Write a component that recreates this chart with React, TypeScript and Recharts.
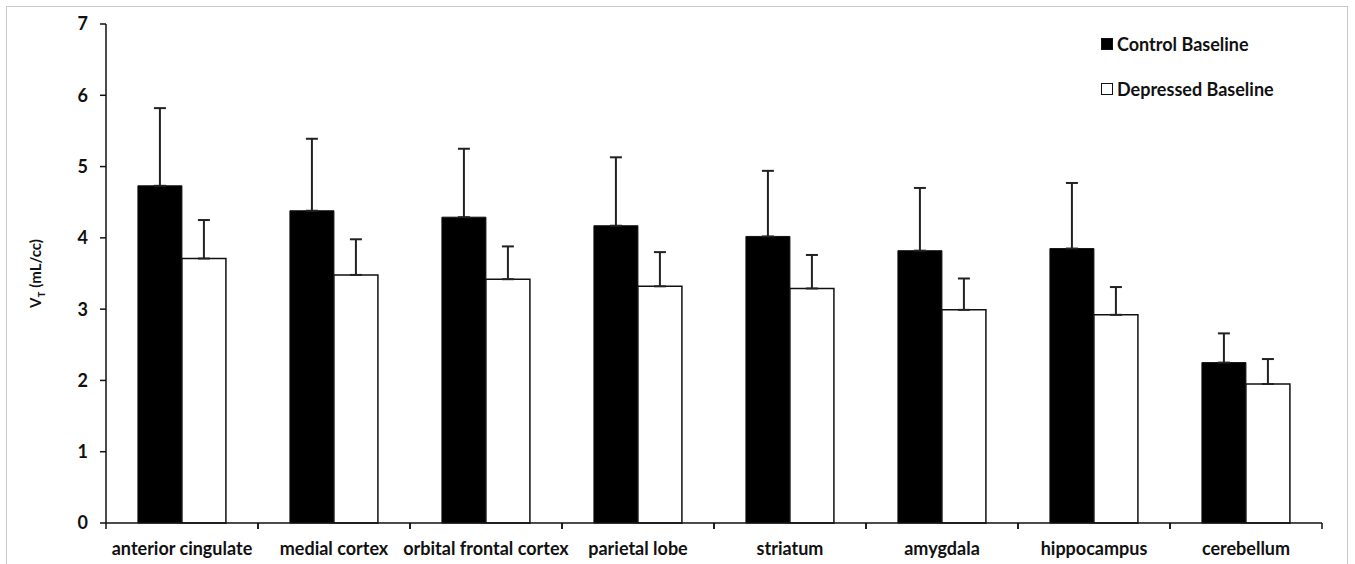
import React from "react";
import { BarChart, Bar, XAxis, YAxis, ErrorBar } from "recharts";

const regions = [
  "anterior cingulate",
  "medial cortex",
  "orbital frontal cortex",
  "parietal lobe",
  "striatum",
  "amygdala",
  "hippocampus",
  "cerebellum",
];
const controlMean = [4.73, 4.38, 4.29, 4.17, 4.02, 3.82, 3.85, 2.25];
const controlSd = [1.09, 1.01, 0.96, 0.96, 0.92, 0.88, 0.92, 0.41];
const depressedMean = [3.71, 3.48, 3.42, 3.32, 3.29, 2.99, 2.92, 1.95];
const depressedSd = [0.54, 0.5, 0.46, 0.48, 0.47, 0.44, 0.39, 0.35];
const yTicks = [0, 1, 2, 3, 4, 5, 6, 7];

const FONT = "Lato, 'Open Sans', sans-serif";

const data = regions.map((name, i) => ({
  name,
  control: controlMean[i],
  controlErr: [0, controlSd[i]],
  depressed: depressedMean[i],
  depressedErr: [0, depressedSd[i]],
}));

// category label centred, tick marks at the band edges
function RegionTick(props: any) {
  const { x, y, payload } = props;
  const half = payload.offset || 0;
  return (
    <g>
      <line x1={x - half} y1={y - 8} x2={x - half} y2={y - 2} stroke="#111" strokeWidth={1.5} />
      <line x1={x + half} y1={y - 8} x2={x + half} y2={y - 2} stroke="#111" strokeWidth={1.5} />
      <text
        x={x}
        y={y + 24}
        textAnchor="middle"
        fontFamily={FONT}
        fontWeight={700}
        fontSize={18}
        fill="#111"
      >
        {payload.value}
      </text>
    </g>
  );
}

function LegendBox() {
  const row = (label: string, fill: string) => (
    <div style={{ display: "flex", alignItems: "center", height: 22 }}>
      <span
        style={{
          display: "inline-block",
          width: 10,
          height: 10,
          background: fill,
          border: "1.5px solid #111",
          marginRight: 4,
        }}
      />
      <span style={{ fontFamily: FONT, fontWeight: 700, fontSize: 18, color: "#111" }}>{label}</span>
    </div>
  );
  return (
    <div style={{ position: "absolute", left: 1101, top: 33, display: "flex", flexDirection: "column", gap: 23 }}>
      {row("Control Baseline", "#000")}
      {row("Depressed Baseline", "#fff")}
    </div>
  );
}

function YLabel(props: any) {
  const { viewBox } = props;
  const cy = viewBox.y + viewBox.height / 2;
  const cx = 41;
  return (
    <text
      x={cx}
      y={cy}
      transform={`rotate(-90 ${cx} ${cy})`}
      textAnchor="middle"
      fontFamily={FONT}
      fontWeight={700}
      fontSize={15}
      fill="#111"
    >
      V<tspan fontSize={10} dy={4}>T</tspan>
      <tspan dy={-4}> (mL/cc)</tspan>
    </text>
  );
}

export default function App() {
  return (
    <div style={{ position: "relative", width: 1355, height: 564, background: "#fff", overflow: "hidden" }}>
      <style>{`body{margin:0}`}</style>
      <div
        style={{
          position: "absolute",
          left: 6,
          top: 6,
          width: 1340,
          height: 620,
          border: "1px solid #c8c8c8",
        }}
      />
      <div style={{ position: "absolute", left: 0, top: 0 }}>
        <BarChart
          width={1355}
          height={564}
          data={data}
          margin={{ top: 24, right: 33, bottom: 6, left: 0 }}
          barCategoryGap="21%"
          barGap={0}
        >
          <XAxis
            dataKey="name"
            height={35}
            axisLine={{ stroke: "#111", strokeWidth: 1.5 }}
            tickLine={false}
            tick={<RegionTick />}
            interval={0}
          />
          <YAxis
            width={106}
            domain={[0, 7]}
            ticks={yTicks}
            interval={0}
            axisLine={{ stroke: "#111", strokeWidth: 1.5 }}
            tickLine={{ stroke: "#111", strokeWidth: 1.5 }}
            tickSize={6}
            tickMargin={12}
            tick={{ fontFamily: FONT, fontWeight: 700, fontSize: 18, fill: "#111" }}
            label={<YLabel />}
          />
          <Bar dataKey="control" fill="#000" stroke="#111" strokeWidth={1} isAnimationActive={false}>
            <ErrorBar dataKey="controlErr" direction="y" width={6} stroke="#222" strokeWidth={2} />
          </Bar>
          <Bar dataKey="depressed" fill="#fff" stroke="#111" strokeWidth={1.5} isAnimationActive={false}>
            <ErrorBar dataKey="depressedErr" direction="y" width={6} stroke="#222" strokeWidth={2} />
          </Bar>
        </BarChart>
      </div>
      <LegendBox />
    </div>
  );
}
